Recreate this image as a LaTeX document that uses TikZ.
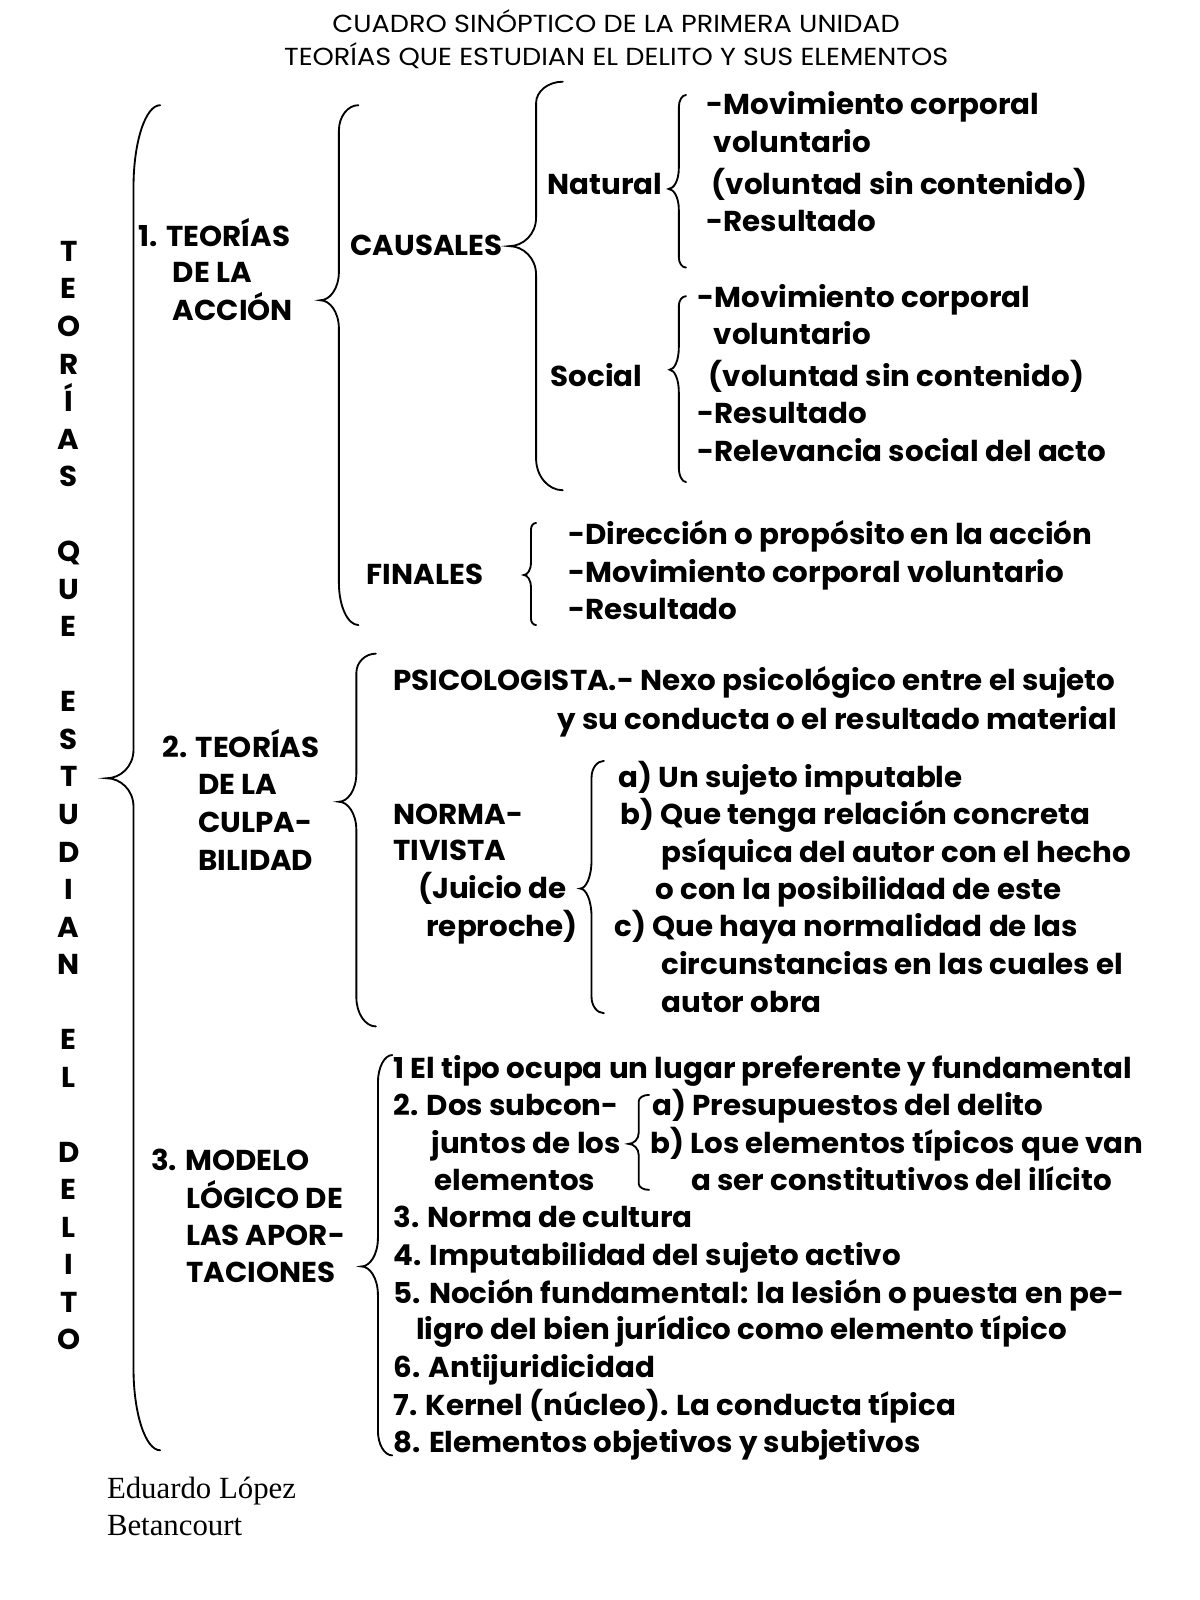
\documentclass[tikz,border=0pt]{standalone}
\usepackage{fontspec}
\setmainfont{Poppins}[FakeStretch=1.02]
\newfontfamily\titfont{Poppins}[FakeStretch=1.1]
\newfontfamily\firma{Liberation Serif}
\usepackage{tikz}

\tikzset{
  linea/.style={anchor=base west, inner sep=0pt, font=\fontsize{28}{34}\selectfont\bfseries},
  letra/.style={anchor=base, inner sep=0pt, font=\fontsize{28}{34}\selectfont\bfseries},
  titulo/.style={anchor=base, inner sep=0pt, font=\fontsize{24}{29}\selectfont\titfont},
  autor/.style={anchor=base west, inner sep=0pt, font=\fontsize{30}{36}\selectfont\firma},
  llave/.style={line width=1.8pt, line cap=round}
}

\begin{document}
\begin{tikzpicture}[x=1pt, y=-0.9945pt]
        \useasboundingbox (0,0) rectangle (1168,1566.6);
        % Title
        \node[titulo] (tit1) at (600,32) {CUADRO SINÓPTICO DE LA PRIMERA UNIDAD};
        \node[titulo] (tit2) at (600,64) {TEORÍAS QUE ESTUDIAN EL DELITO Y SUS ELEMENTOS};
        % Vertical title
        \foreach \c/\r in {T/0,E/1,O/2,R/3,Í/4,A/5,S/6,Q/8,U/9,E/10,E/12,S/13,T/14,U/15,D/16,I/17,A/18,N/19,E/21,L/22,D/24,E/25,L/26,I/27,T/28,O/29} {
            \node[letra] (v\r) at (67,{256+36.75*\r}) {\c};
        }
        % Draw braces
        \foreach \xe/\xm/\xt/\ya/\ym/\yb in {156/130/104/103/762/1420, 349/330/312/103/294/612, 548/522/496/80/241/480, 668/661/651/93/185/262, 668/661/652/290/362/472, 522/517/510/512/563/612, 366/347/330/640/785/1005, 588/576/565/745/870/992, 382/368/352/1033/1240/1425, 632/622/612/1072/1120/1165} {
            \pgfmathsetmacro\ra{min(80,0.13*(\ym-\ya))}
            \pgfmathsetmacro\rb{min(80,0.13*(\yb-\ym))}
            \pgfmathsetmacro\rt{min(28,0.12*(\yb-\ya))}
            \draw[llave] (\xe,\ya) .. controls ({\xm+0.45*(\xe-\xm)},\ya) and (\xm,{\ya+0.45*\ra}) .. (\xm,{\ya+\ra})
                -- (\xm,{\ym-\rt}) .. controls (\xm,{\ym-0.4*\rt}) and ({\xt+0.5*(\xm-\xt)},\ym) .. (\xt,\ym)
                .. controls ({\xt+0.5*(\xm-\xt)},\ym) and (\xm,{\ym+0.4*\rt}) .. (\xm,{\ym+\rt})
                -- (\xm,{\yb-\rb}) .. controls (\xm,{\yb-0.45*\rb}) and ({\xm+0.45*(\xe-\xm)},\yb) .. (\xe,\yb);
        }
        % 1. Teorias de la accion
        \foreach \x/\y/\t in {135/241/1. TEORÍAS, 168/277/DE LA, 168/314/ACCIÓN, 341/250/CAUSALES,
            533/190/Natural, 688/112/-Movimiento corporal, 695/149/voluntario, 693/190/(voluntad sin contenido), 688/227/-Resultado,
            536/378/Social, 679/301/-Movimiento corporal, 695/337/voluntario, 690/378/(voluntad sin contenido), 679/415/-Resultado, 679/452/-Relevancia social del acto,
            357/572/FINALES, 553/533/-Dirección o propósito en la acción, 553/570/-Movimiento corporal voluntario, 553/607/-Resultado} {
            \node[linea] (a\x-\y) at (\x,\y) {\t};
        }
        % 2. Teorias de la culpabilidad
        \foreach \x/\y/\t in {158/742/2. TEORÍAS, 193/778/DE LA, 193/815/CULPA-, 193/852/BILIDAD,
            383/676/PSICOLOGISTA.- Nexo psicológico entre el sujeto, 543/714/y su conducta o el resultado material,
            383/807/NORMA-, 383/843/TIVISTA, 407/880/(Juicio de, 415/917/reproche),
            602/771/a) Un sujeto imputable, 604/807/b) Que tenga relación concreta, 644/844/psíquica del autor con el hecho, 638/881/o con la posibilidad de este,
            598/917/c) Que haya normalidad de las, 644/954/circunstancias en las cuales el, 644/991/autor obra} {
            \node[linea] (b\x-\y) at (\x,\y) {\t};
        }
        % 3. Modelo logico
        \foreach \x/\y/\t in {147/1146/3. MODELO, 181/1183/LÓGICO DE, 181/1219/LAS APOR-, 181/1256/TACIONES,
            383/1056/1 El tipo ocupa un lugar preferente y fundamental, 383/1092/2. Dos subcon-, 420/1129/juntos de los, 423/1166/elementos,
            635/1092/a) Presupuestos del delito, 633/1129/b) Los elementos típicos que van, 673/1166/a ser constitutivos del ilícito,
            383/1202/3. Norma de cultura, 383/1239/4. Imputabilidad del sujeto activo, 383/1276/5. Noción fundamental: la lesión o puesta en pe-,
            405/1312/ligro del bien jurídico como elemento típico, 383/1349/6. Antijuridicidad, 383/1386/7. Kernel (núcleo). La conducta típica,
            383/1422/8. Elementos objetivos y subjetivos} {
            \node[linea] (c\x-\y) at (\x,\y) {\t};
        }
        % Author
        \node[autor] (aut1) at (104,1467) {Eduardo López};
        \node[autor] (aut2) at (104,1503) {Betancourt};
\end{tikzpicture}
\end{document}
